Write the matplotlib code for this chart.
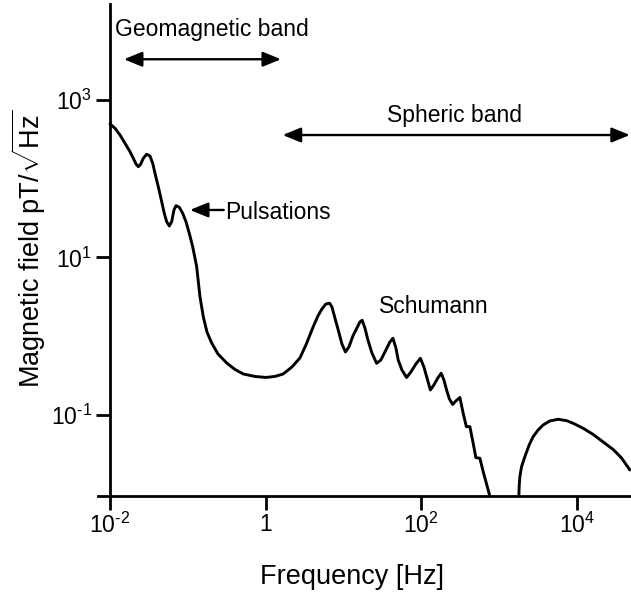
import numpy as np
import matplotlib
matplotlib.use('Agg')
from matplotlib import pyplot as plt

plt.rcParams['font.family'] = ['Liberation Sans', 'DejaVu Sans']
plt.rcParams['mathtext.fontset'] = 'custom'
plt.rcParams['mathtext.rm'] = 'Liberation Sans'
plt.rcParams['mathtext.it'] = 'Liberation Sans:italic'
plt.rcParams['mathtext.bf'] = 'Liberation Sans:bold'

# low-frequency part: geomagnetic pulsations, Schumann resonances
freq_low = [0.01, 0.0116, 0.01344, 0.01559, 0.01807, 0.01993, 0.02159, 0.02311,
            0.02481, 0.02679, 0.02963, 0.03266, 0.03538, 0.03788, 0.04176, 0.04618,
            0.04986, 0.05355, 0.05785, 0.06211, 0.06647, 0.07052, 0.07776, 0.08597,
            0.09482, 0.10454, 0.11561, 0.13013, 0.14349, 0.15822, 0.1765, 0.20283,
            0.24446, 0.31623, 0.40439, 0.51688, 0.73078, 1.0118, 1.3205, 1.6883,
            2.1842, 2.7682, 3.3066, 4.104, 4.7165, 5.3076, 5.9743, 6.6665,
            7.1375, 7.7983, 8.6014, 9.594, 10.641, 11.803, 13.287, 14.957,
            16.346, 17.44, 18.951, 20.715, 23.318, 26.792, 30.434, 35.29,
            39.719, 43.401, 47.445, 50.787, 56.65, 65.119, 73.944, 85.759,
            97.95, 108.65, 117.69, 131.71, 146.04, 164.38, 181.3, 196.42,
            212.72, 231.11, 254.86, 280.1, 315.33, 347.54, 382.23, 423.87,
            467.42, 506.17, 569.87, 628.47, 766.0]
field_low = [495.7, 437.0, 359.4, 282.0, 220.6, 181.8, 153.9, 142.2,
             153.0, 181.8, 204.4, 194.5, 157.1, 117.3, 79.25, 51.11,
             36.41, 28.49, 25.12, 28.49, 40.11, 45.49, 43.40, 36.41,
             28.49, 20.29, 13.71, 7.641, 3.178, 1.771, 1.132, 0.8208,
             0.5951, 0.4573, 0.3783, 0.3316, 0.3083, 0.2994, 0.3083, 0.3316,
             0.4070, 0.5294, 0.7743, 1.322, 1.807, 2.218, 2.568, 2.621,
             2.352, 1.705, 1.200, 0.7973, 0.6310, 0.7300, 1.0074, 1.273,
             1.517, 1.594, 1.273, 0.8961, 0.6128, 0.4533, 0.4993, 0.6689,
             0.8453, 0.9419, 0.7093, 0.4993, 0.3727, 0.2994, 0.3516, 0.4442,
             0.5248, 0.4070, 0.3074, 0.2077, 0.2404, 0.2950, 0.3385, 0.2782,
             0.2077, 0.1597, 0.1359, 0.1506, 0.1668, 0.1051, 0.0710, 0.0710,
             0.0437, 0.0287, 0.0282, 0.0191, 0.0093]

# sferic hump
freq_high = [1807.6, 1823.5, 1861.7, 1957.9, 2159.0, 2452.2, 2760.2, 3200.1,
             3710.1, 4525.1, 5783.4, 7418.7, 9015.7, 12118, 16298, 21907,
             29460, 37772, 48296]
field_high = [0.0093, 0.01229, 0.01646, 0.02206, 0.02955, 0.04159, 0.05302, 0.0645,
              0.07464, 0.08389, 0.08817, 0.08463, 0.07845, 0.06778, 0.05655, 0.04542,
              0.03646, 0.02844, 0.02002]

x_ticks = [1e-2, 1, 1e2, 1e4]
x_tick_labels = [r'$10^{\text{-}2}$', '1', '$10^{2}$', '$10^{4}$']
y_ticks = [1e-1, 1e1, 1e3]
y_tick_labels = [r'$10^{\text{-}1}$', '$10^{1}$', '$10^{3}$']

fig = plt.figure(figsize=(6.31, 5.97), dpi=100)
ax = fig.add_axes([98 / 631, 101 / 597, 533 / 631, 492 / 597])

line_kw = dict(color='black', lw=2.1, solid_joinstyle='round', solid_capstyle='round')
ax.plot(freq_low, field_low, **line_kw)
ax.plot(freq_high, field_high, **line_kw)

ax.set_xscale('log')
ax.set_yscale('log')
ax.set_xlim(0.00701, 5e4)
ax.set_ylim(0.00935, 16550)

ax.spines['top'].set_visible(False)
ax.spines['right'].set_visible(False)
ax.spines['left'].set_position(('data', 0.01))
for s in ['left', 'bottom']:
    ax.spines[s].set_linewidth(2.0)

ax.set_xticks(x_ticks)
ax.set_xticklabels(x_tick_labels)
ax.set_yticks(y_ticks)
ax.set_yticklabels(y_tick_labels)
ax.minorticks_off()
ax.tick_params(axis='both', direction='out', length=10, width=2.0,
               labelsize=16.5, pad=2)
ax.tick_params(axis='y', pad=3)

# band arrows and annotations
arrow_kw = dict(mutation_scale=10, lw=1.7, color='black', shrinkA=0, shrinkB=0)
ax.annotate('', xy=(0.0151, 3290), xytext=(1.58, 3290),
            arrowprops=dict(arrowstyle='<|-|>,head_length=1.1,head_width=0.45', **arrow_kw))
ax.text(0.2047, 6560, 'Geomagnetic band', fontsize=16.5, ha='center', va='baseline')

ax.annotate('', xy=(1.66, 359), xytext=(48300, 359),
            arrowprops=dict(arrowstyle='<|-|>,head_length=1.1,head_width=0.45', **arrow_kw))
ax.text(272, 521, 'Spheric band', fontsize=16.5, ha='center', va='baseline')

ax.annotate('', xy=(0.1067, 40.1), xytext=(0.29, 40.1),
            arrowprops=dict(arrowstyle='-|>,head_length=1.1,head_width=0.45', **arrow_kw))
ax.text(0.30, 30.5, 'Pulsations', fontsize=16.5, ha='left', va='baseline')

ax.text(146, 1.955, 'Schumann', fontsize=16.5, ha='center', va='baseline')

fig.text(352 / 631, 13 / 597, 'Frequency [Hz]', fontsize=19.5, ha='center', va='baseline')
fig.text(40 / 631, (597 - 249) / 597, r'Magnetic field pT/$\sqrt{\mathrm{Hz}}$',
         fontsize=19.5, rotation=90, rotation_mode='anchor', ha='center', va='baseline')

fig.savefig('out.png', dpi=100)
